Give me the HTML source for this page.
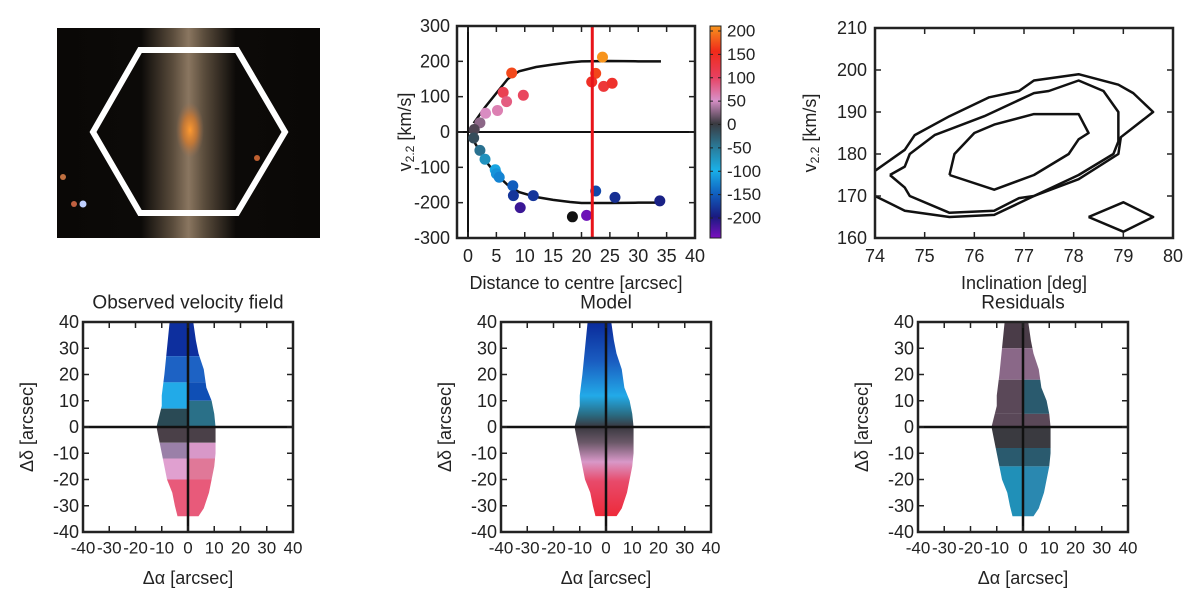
<!DOCTYPE html>
<html><head><meta charset="utf-8"><style>
body{margin:0;background:#fff;}
svg{display:block;font-family:"Liberation Sans",sans-serif;}
</style></head><body>
<svg id="fig" width="1200" height="606" viewBox="0 0 1200 606" xmlns="http://www.w3.org/2000/svg">
<defs>
<linearGradient id="band" x1="0" x2="1" y1="0" y2="0">
<stop offset="0" stop-color="#0a0806"/><stop offset="0.32" stop-color="#0c0a08"/>
<stop offset="0.44" stop-color="#5a4c3c"/><stop offset="0.5" stop-color="#8a7660"/><stop offset="0.56" stop-color="#5a4c3c"/>
<stop offset="0.68" stop-color="#0c0a08"/><stop offset="1" stop-color="#0a0806"/></linearGradient>
<radialGradient id="core"><stop offset="0" stop-color="#ff9a30"/><stop offset="0.5" stop-color="#d07a30" stop-opacity="0.8"/><stop offset="1" stop-color="#a07050" stop-opacity="0"/></radialGradient>
<linearGradient id="cbar" x1="0" x2="0" y1="0" y2="1">
<stop offset="0" stop-color="#f7941d"/><stop offset="0.12" stop-color="#f02a1a"/><stop offset="0.24" stop-color="#e84060"/><stop offset="0.35" stop-color="#d890c8"/><stop offset="0.46" stop-color="#3a3a40"/><stop offset="0.57" stop-color="#2a7a98"/><stop offset="0.68" stop-color="#1ab0e8"/><stop offset="0.79" stop-color="#1060c0"/><stop offset="0.9" stop-color="#1a1a80"/><stop offset="1" stop-color="#7a10c0"/></linearGradient>
<linearGradient id="modelg" x1="0" x2="0" y1="0" y2="1">
<stop offset="0" stop-color="#0a2a9a"/><stop offset="0.2" stop-color="#1a5cc0"/><stop offset="0.38" stop-color="#22aae8"/><stop offset="0.48" stop-color="#2a6a80"/><stop offset="0.54" stop-color="#3a3840"/><stop offset="0.62" stop-color="#6a5868"/><stop offset="0.72" stop-color="#d898c8"/><stop offset="0.82" stop-color="#e84a6a"/><stop offset="1" stop-color="#ee2a3a"/></linearGradient>
</defs>
</svg>
<script>
const NS='http://www.w3.org/2000/svg';
const svg=document.getElementById('fig');
function mk(tag,attrs,parent){const e=document.createElementNS(NS,tag);for(const k in attrs)e.setAttribute(k,attrs[k]);(parent||svg).appendChild(e);return e;}
function txt(x,y,s,size,anchor,parent,rot){const t=mk('text',{x:x,y:y,'font-size':size,'text-anchor':anchor||'middle','dominant-baseline':'central',fill:'#222'},parent);if(rot)t.setAttribute('transform','rotate(-90 '+x+' '+y+')');t.textContent=s;return t;}

// ---- rotation curve data ----
const rcDist=[7.7,9.75,6.2,6.8,5.2,3.1,2.1,1.1,1.0,2.1,3.0,4.8,5.0,5.5,7.9,8.0,9.2,11.5,18.4,20.9,22.5,25.9,33.8,23.7,22.5,21.8,23.9,25.4];
const rcVel=[167,104,112,86,61,53,26,7,-17,-52,-77,-107,-118,-128,-152,-180,-214,-180,-240,-236,-167,-185,-195,212,166,142,129,138];
const modelUpX=[1,3,5,7,9,12,15,18,20,25,30,34];
const modelUpY=[25,70,110,150,172,184,191,197,200,201,200,200];
const modelLoX=[1,3,5,7,9,12,15,18,20,25,30,34];
const modelLoY=[-25,-80,-120,-150,-170,-184,-192,-198,-201,-201,-200,-200];
const rcXTicks=[0,5,10,15,20,25,30,35,40];
const rcYTicks=[300,200,100,0,-100,-200,-300];
const rRadius=[21.9];
const cbTicks=[200,150,100,50,0,-50,-100,-150,-200];
// ---- contour data (inclination, v) ----
const cOuterX=[74,74.6,74.8,75.5,76.3,76.9,77.2,78.1,78.9,79.2,79.6,78.95,78.9,78.1,77.2,76.4,75.5,74.6,74];
const cOuterY=[176,181,184.5,189,193.5,195,197.5,199,196.5,194.5,190,184,180,174,170,165.5,165,166.5,170];
const cMidX=[74.3,74.6,74.7,75.2,76.2,77.2,77.5,78.1,78.6,78.9,78.9,78.8,78.1,77.2,76.9,76.4,75.5,74.7,74.6,74.3];
const cMidY=[175,177,180,184.5,189,194.5,195,197.5,195,190,183,180,175,170,169.5,166.5,166,170,172,175];
const cInX=[75.5,75.6,76,76.4,77.2,78.1,78.3,78.1,77.9,77.2,76.4,75.5];
const cInY=[175,180,185,187,189.5,189.5,185,183.5,180,175,171.5,175];
const cDiaX=[78.3,79,79.6,79,78.3];
const cDiaY=[165,168.5,165,161.5,165];
const incTicks=[74,75,76,77,78,79,80];
const vTicks=[210,200,190,180,170,160];
// ---- velocity field shape (arcsec) ----
const galX=[-7,2,3,4,6,7,9,10,10.5,10.5,10.5,10,9,8,6,4,-4,-5,-6,-8,-10,-11,-12,-10,-10,-9,-8,-7];
const galY=[40,40,33,28,22,15,10,5,0,-5,-10,-15,-20,-25,-31,-34,-34,-30,-25,-20,-10,-5,0,8,12,20,30,40];
const fieldTicks=[-40,-30,-20,-10,0,10,20,30,40];
const obsBandTop=[40,27,17,17,10,7,0,-6,-6,-12,-12,-20];
const obsBandBot=[27,17,7,10,0,0,-6,-12,-12,-20,-20,-40];
const obsBandL=[-20,-20,-20,0,0,-20,-20,-20,0,-20,0,-20];
const obsBandR=[20,20,0,20,20,0,20,0,20,0,20,20];
const obsBandC=['#0d2f9e','#1d62c4','#22aae8','#0f4fb5','#2a7088','#2a4a55','#4a4048','#9a80a8','#d898c8','#e0a0d0','#e07898','#e85a7a'];
const resBandTop=[40,30,18,18,5,0,-8,-15,-15];
const resBandBot=[30,18,5,5,0,-8,-15,-40,-40];
const resBandL=[-20,-20,-20,0,-20,-20,-20,-20,0];
const resBandR=[20,20,0,20,20,20,20,0,20];
const resBandC=['#4a3c48','#8a6888','#5a4858','#2a5a6e','#5a4858','#3a3a40','#2a5a6e','#2090b8','#2a88b0'];

function cmap(v){const stops=[[210,[247,148,29]],[150,[240,42,26]],[100,[232,72,100]],[50,[216,144,200]],[0,[58,58,64]],[-50,[42,110,140]],[-100,[26,176,232]],[-150,[16,96,192]],[-200,[26,26,128]],[-242,[122,16,192]]];
 if(v>=stops[0][0])return 'rgb('+stops[0][1]+')';
 for(let i=0;i<stops.length-1;i++){const a=stops[i],b=stops[i+1];if(v<=a[0]&&v>=b[0]){const t=(a[0]-v)/(a[0]-b[0]);return 'rgb('+a[1].map((c,j)=>Math.round(c+(b[1][j]-c)*t)).join(',')+')';}}
 return 'rgb(122,16,192)';}

function frameTicks(g,x0,y0,x1,y1,xs,ys,xv,yv){
 mk('rect',{x:x0,y:y0,width:x1-x0,height:y1-y0,fill:'none',stroke:'#222','stroke-width':2.5},g);
 xv.forEach(v=>{const x=xs(v);mk('line',{x1:x,x2:x,y1:y1,y2:y1-6,stroke:'#222','stroke-width':1.5},g);mk('line',{x1:x,x2:x,y1:y0,y2:y0+6,stroke:'#222','stroke-width':1.5},g);});
 yv.forEach(v=>{const y=ys(v);mk('line',{x1:x0,x2:x0+6,y1:y,y2:y,stroke:'#222','stroke-width':1.5},g);mk('line',{x1:x1,x2:x1-6,y1:y,y2:y,stroke:'#222','stroke-width':1.5},g);});
}

// ---- Galaxy image ----
const img=mk('g',{});


mk('rect',{x:57,y:28,width:263,height:210,fill:'url(#band)'},img);
mk('ellipse',{cx:190,cy:130,rx:14,ry:28,fill:'url(#core)'},img);
mk('circle',{cx:257,cy:158,r:3,fill:'#c06030'},img);
mk('circle',{cx:63,cy:177,r:3,fill:'#c07040'},img);
mk('circle',{cx:74,cy:204,r:3,fill:'#c06040'},img);
mk('circle',{cx:83,cy:204,r:3.5,fill:'#c0d0ff'},img);
const hex=mk('polygon',{points:'140,50 237,50 285,132 237,213 140,213 93,132',fill:'none',stroke:'#fff','stroke-width':6},img);



// ---- Rotation curve panel ----
const rc=mk('g',{});


const rx=v=>468+v*5.675, ry=v=>132-v*106/300;
mk('line',{x1:rx(0),x2:rx(0),y1:26,y2:238,stroke:'#111','stroke-width':2},rc);
mk('line',{x1:457,x2:695,y1:ry(0),y2:ry(0),stroke:'#111','stroke-width':2},rc);
const upPath=mk('polyline',{points:modelUpX.map((x,i)=>rx(x)+','+ry(modelUpY[i])).join(' '),fill:'none',stroke:'#111','stroke-width':2.5},rc);


const loPath=mk('polyline',{points:modelLoX.map((x,i)=>rx(x)+','+ry(modelLoY[i])).join(' '),fill:'none',stroke:'#111','stroke-width':2.5},rc);


rcDist.forEach((d,i)=>{const c=mk('circle',{cx:rx(d),cy:ry(rcVel[i]),r:5.5,fill:(rcVel[i]<-238?'#111':cmap(rcVel[i]))},rc);
 
 });
const rl=mk('line',{x1:rx(rRadius[0]),x2:rx(rRadius[0]),y1:26,y2:238,stroke:'#e8141a','stroke-width':3},rc);


frameTicks(rc,457,26,695,238,rx,ry,rcXTicks,rcYTicks);
rcXTicks.forEach(v=>txt(rx(v),256,String(v),18,'middle',rc));
rcYTicks.forEach(v=>txt(450,ry(v),String(v),18,'end',rc));
const rcxl=txt(576,283,'Distance to centre [arcsec]',18,'middle',rc);


const rcyl=mk('text',{x:405,y:132,'font-size':18,'text-anchor':'middle','dominant-baseline':'central',fill:'#222',transform:'rotate(-90 405 132)'},rc);
rcyl.innerHTML='v<tspan font-size="12" dy="5">2.2</tspan><tspan dy="-5"> [km/s]</tspan>';


// colorbar
const cb=mk('g',{},rc);


mk('rect',{x:710,y:26,width:11,height:212,fill:'url(#cbar)',stroke:'#222','stroke-width':1},cb);
const cby=v=>26+(210.7-v)*0.4675;
cbTicks.forEach(v=>{mk('line',{x1:710,x2:713,y1:cby(v),y2:cby(v),stroke:'#222'},cb);mk('line',{x1:721,x2:718,y1:cby(v),y2:cby(v),stroke:'#222'},cb);txt(727,cby(v),String(v),17,'start',cb);});

// ---- Contour panel ----
const ct=mk('g',{});


const ix=v=>875+(v-74)*(298/6), iy=v=>238-(v-160)*4.2;
[[cOuterX,cOuterY,'contour-outer'],[cMidX,cMidY,'contour-middle'],[cInX,cInY,'contour-inner'],[cDiaX,cDiaY,'contour-island']].forEach(s=>{
 const p=mk('polyline',{points:s[0].map((x,i)=>ix(x)+','+iy(s[1][i])).join(' '),fill:'none',stroke:'#111','stroke-width':2.5,'stroke-linejoin':'round'},ct);
 
 });
frameTicks(ct,875,28,1173,238,ix,iy,incTicks,vTicks);
incTicks.forEach(v=>txt(ix(v),256,String(v),18,'middle',ct));
vTicks.forEach(v=>txt(867,iy(v),String(v),18,'end',ct));
const ctx=txt(1024,283,'Inclination [deg]',18,'middle',ct);


const cty=mk('text',{x:810,y:133,'font-size':18,'text-anchor':'middle','dominant-baseline':'central',fill:'#222',transform:'rotate(-90 810 133)'},ct);
cty.innerHTML='v<tspan font-size="12" dy="5">2.2</tspan><tspan dy="-5"> [km/s]</tspan>';



// ---- Velocity field panels ----
function field(x0,name,title,kind,ylabX){
 const g=mk('g',{});
 
 
 const fx=v=>x0+105+v*105/40, fy=v=>427-v*105/40;
 const cid='clip'+name;
 const cp=mk('clipPath',{id:cid},g);
 mk('polygon',{points:galX.map((x,i)=>fx(x)+','+fy(galY[i])).join(' ')},cp);
 const body=mk('g',{'clip-path':'url(#'+cid+')'},g);
 if(kind==='model'){mk('rect',{x:fx(-20),y:fy(40),width:fx(20)-fx(-20),height:fy(-34)-fy(40),fill:'url(#modelg)'},body);}
 else{const T=kind==='obs'?[obsBandTop,obsBandBot,obsBandL,obsBandR,obsBandC]:[resBandTop,resBandBot,resBandL,resBandR,resBandC];
  T[0].forEach((t,i)=>{const r=mk('rect',{x:fx(T[2][i]),y:fy(t),width:fx(T[3][i])-fx(T[2][i]),height:fy(T[1][i])-fy(t),fill:T[4][i]},body);
   
   });}
 mk('line',{x1:fx(0),x2:fx(0),y1:322,y2:532,stroke:'#111','stroke-width':2.5},g);
 mk('line',{x1:x0,x2:x0+210,y1:fy(0),y2:fy(0),stroke:'#111','stroke-width':2.5},g);
 frameTicks(g,x0,322,x0+210,532,fx,fy,fieldTicks,fieldTicks);
 fieldTicks.forEach(v=>txt(fx(v),548,String(v),17,'middle',g));
 fieldTicks.forEach(v=>txt(x0-4,fy(v),String(v),18,'end',g));
 const tt=txt(x0+105,303,title,19,'middle',g);
 
 
 const xl=txt(x0+105,578,'Δα [arcsec]',18,'middle',g);
 
 
 const yl=txt(ylabX,427,'Δδ [arcsec]',18,'middle',g,true);
 
 
}
field(83,'observed-velocity-field','Observed velocity field','obs',27);
field(501,'model-velocity-field','Model','model',445);
field(918,'residual-velocity-field','Residuals','res',862);
</script>
</body></html>
